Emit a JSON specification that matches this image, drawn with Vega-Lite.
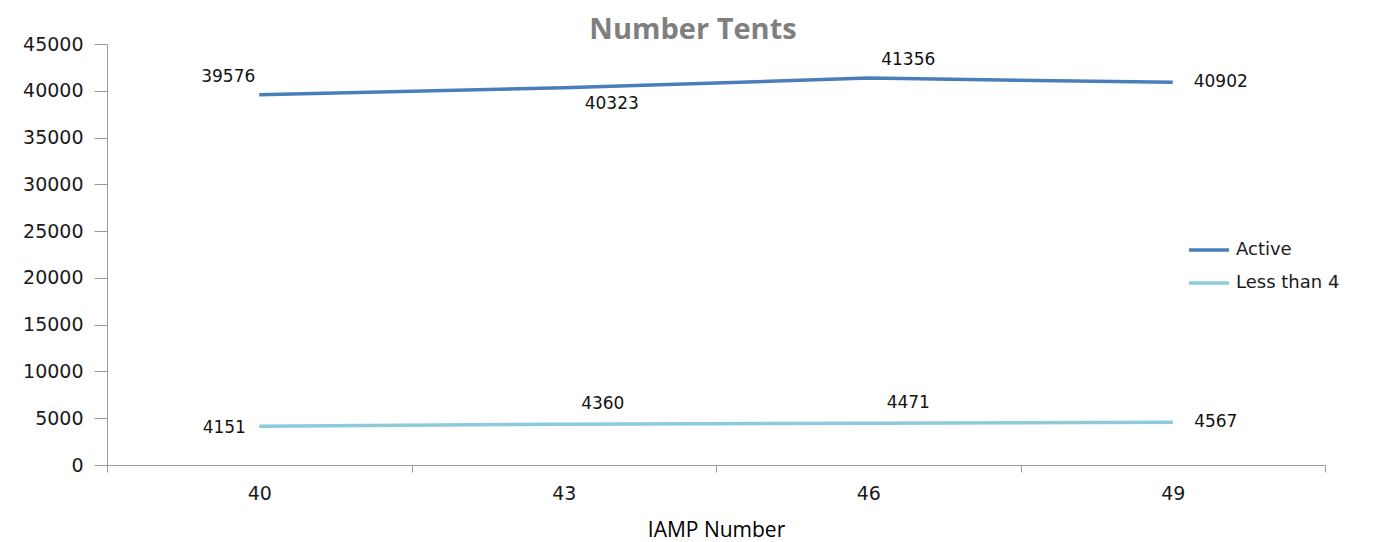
{
  "$schema": "https://vega.github.io/schema/vega-lite/v6.json",
  "autosize": "none",
  "width": 1218,
  "height": 421,
  "padding": {"left": 107, "top": 44, "right": 50, "bottom": 77},
  "background": "white",
  "title": {
    "text": "Number Tents",
    "font": "Open Sans",
    "fontSize": 29,
    "fontWeight": "bold",
    "color": "#7F7F7F",
    "anchor": "middle",
    "dx": -23,
    "dy": 14,
    "offset": 4
  },
  "config": {
    "view": {"stroke": null},
    "axis": {"grid": false, "domainColor": "#9A9A9A", "tickColor": "#9A9A9A", "labelColor": "#1A1A1A", "labelFont": "DejaVu Sans", "labelFontSize": 18}
  },
  "data": {
    "values": [
      {"iamp": "40", "series": "Active", "value": 39576},
      {"iamp": "43", "series": "Active", "value": 40323},
      {"iamp": "46", "series": "Active", "value": 41356},
      {"iamp": "49", "series": "Active", "value": 40902},
      {"iamp": "40", "series": "Less than 4", "value": 4151},
      {"iamp": "43", "series": "Less than 4", "value": 4360},
      {"iamp": "46", "series": "Less than 4", "value": 4471},
      {"iamp": "49", "series": "Less than 4", "value": 4567}
    ]
  },
  "encoding": {
    "x": {
      "field": "iamp", "type": "ordinal", "sort": null,
      "scale": {"type": "band", "paddingInner": 0, "paddingOuter": 0},
      "axis": {"title": "IAMP Number", "titleFont": "Open Sans", "titleFontSize": 21, "titleFontWeight": "normal", "titleColor": "#000000", "titlePadding": 16, "labelAngle": 0, "labelPadding": 12, "tickBand": "extent", "tickSize": 7, "labelFontSize": 19}
    },
    "y": {
      "field": "value", "type": "quantitative",
      "scale": {"domain": [0, 45000], "nice": false},
      "axis": {"title": null, "values": [0, 5000, 10000, 15000, 20000, 25000, 30000, 35000, 40000, 45000], "format": "d", "tickSize": 13, "labelPadding": 11, "labelFontSize": 19}
    }
  },
  "layer": [
    {
      "mark": {"type": "line", "strokeWidth": 3.5},
      "encoding": {
        "color": {
          "field": "series", "type": "nominal",
          "scale": {"domain": ["Active", "Less than 4"], "range": ["#4A7EBB", "#8DCADB"]},
          "legend": {"title": null, "orient": "none", "legendX": 1080, "legendY": 184, "symbolType": "stroke", "symbolSize": 1600, "symbolStrokeWidth": 3.5, "labelFont": "DejaVu Sans", "labelFontSize": 18, "labelColor": "#1A1A1A", "rowPadding": 2, "padding": 0, "labelOffset": 5}
        }
      }
    },
    {"transform": [{"filter": "datum.series == 'Active' && datum.iamp == '40'"}], "mark": {"type": "text", "font": "DejaVu Sans", "fontSize": 17, "color": "#111111", "dx": -31, "dy": -18}, "encoding": {"text": {"field": "value", "type": "quantitative", "format": "d"}}},
    {"transform": [{"filter": "datum.series == 'Active' && datum.iamp == '43'"}], "mark": {"type": "text", "font": "DejaVu Sans", "fontSize": 17, "color": "#111111", "dx": 48, "dy": 16}, "encoding": {"text": {"field": "value", "type": "quantitative", "format": "d"}}},
    {"transform": [{"filter": "datum.series == 'Active' && datum.iamp == '46'"}], "mark": {"type": "text", "font": "DejaVu Sans", "fontSize": 17, "color": "#111111", "dx": 40, "dy": -18}, "encoding": {"text": {"field": "value", "type": "quantitative", "format": "d"}}},
    {"transform": [{"filter": "datum.series == 'Active' && datum.iamp == '49'"}], "mark": {"type": "text", "font": "DejaVu Sans", "fontSize": 17, "color": "#111111", "dx": 48, "dy": 0}, "encoding": {"text": {"field": "value", "type": "quantitative", "format": "d"}}},
    {"transform": [{"filter": "datum.series == 'Less than 4' && datum.iamp == '40'"}], "mark": {"type": "text", "font": "DejaVu Sans", "fontSize": 17, "color": "#111111", "dx": -35, "dy": 2}, "encoding": {"text": {"field": "value", "type": "quantitative", "format": "d"}}},
    {"transform": [{"filter": "datum.series == 'Less than 4' && datum.iamp == '43'"}], "mark": {"type": "text", "font": "DejaVu Sans", "fontSize": 17, "color": "#111111", "dx": 39, "dy": -20}, "encoding": {"text": {"field": "value", "type": "quantitative", "format": "d"}}},
    {"transform": [{"filter": "datum.series == 'Less than 4' && datum.iamp == '46'"}], "mark": {"type": "text", "font": "DejaVu Sans", "fontSize": 17, "color": "#111111", "dx": 40, "dy": -20}, "encoding": {"text": {"field": "value", "type": "quantitative", "format": "d"}}},
    {"transform": [{"filter": "datum.series == 'Less than 4' && datum.iamp == '49'"}], "mark": {"type": "text", "font": "DejaVu Sans", "fontSize": 17, "color": "#111111", "dx": 43, "dy": 0}, "encoding": {"text": {"field": "value", "type": "quantitative", "format": "d"}}}
  ]
}
